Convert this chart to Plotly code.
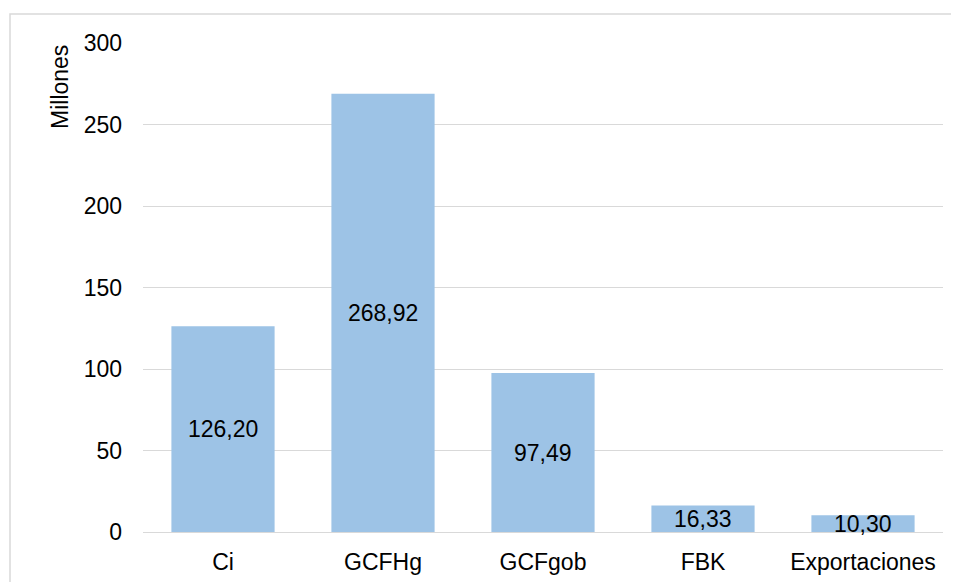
import plotly.graph_objects as go

categories = ["Ci", "GCFHg", "GCFgob", "FBK", "Exportaciones"]
values = [126.20, 268.92, 97.49, 16.33, 10.30]
labels = ["126,20", "268,92", "97,49", "16,33", "10,30"]
y_ticks = [0, 50, 100, 150, 200, 250, 300]

FONT = "Liberation Sans, Arial, sans-serif"
BAR = "#9DC3E6"
FS = 23

fig = go.Figure()
fig.add_trace(go.Bar(x=categories, y=values, marker=dict(color=BAR, line=dict(width=0)),
                     width=0.645, hoverinfo="skip"))

for c, v, t in zip(categories, values, labels):
    fig.add_annotation(x=c, y=v / 2, text=t, showarrow=False,
                       font=dict(family=FONT, size=FS, color="#000000"))

# axis title placed at the top of the value axis
fig.add_annotation(xref="paper", yref="paper", x=(60 - 143) / 800, y=(532 - 43) / 489,
                   xanchor="center", yanchor="top", text="Millones", textangle=-90,
                   showarrow=False, font=dict(family=FONT, size=FS, color="#000000"))

fig.update_layout(
    width=959, height=582,
    margin=dict(l=135, r=24, t=35, b=58),
    paper_bgcolor="white", plot_bgcolor="white",
    showlegend=False,
    font=dict(family=FONT, size=FS, color="#000000"),
    xaxis=dict(showgrid=False, showline=False, ticks="", tickfont=dict(size=FS),
               ticklabelstandoff=14),
    yaxis=dict(range=[0, 300], tickvals=y_ticks, showgrid=True, gridcolor="#D9D9D9",
               gridwidth=1, zeroline=True, zerolinecolor="#D9D9D9", zerolinewidth=1,
               showline=False, ticks="", ticklen=0, tickfont=dict(size=FS),
               ticklabelstandoff=20),
    shapes=[dict(type="rect", xref="paper", yref="paper",
                 x0=-0.16625, x1=1.01875, y0=-0.13, y1=1.0593,
                 line=dict(color="#D9D9D9", width=1.5), fillcolor="rgba(0,0,0,0)")],
)

fig.write_html("out.html")
